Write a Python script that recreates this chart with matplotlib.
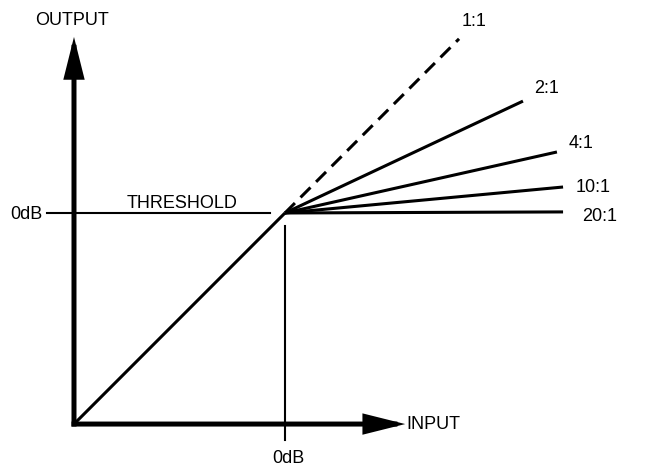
import matplotlib
matplotlib.use("Agg")
import matplotlib.pyplot as plt
from matplotlib.patches import FancyArrowPatch, ArrowStyle

plt.rcParams['font.family'] = ['Liberation Sans', 'DejaVu Sans']

# levels in arbitrary units, origin = 0, threshold (0dB) = 100
threshold = 100
ratio_labels = ['1:1', '2:1', '4:1', '10:1', '20:1']
end_in = [182.5, 212.8, 228.9, 231.8, 231.8]
end_out = [182.5, 153.0, 128.9, 112.3, 100.5]
axis_in_max = 157
axis_out_max = 183.4

fig = plt.figure(figsize=(6.58, 4.65), dpi=100)
ax = fig.add_axes([0, 0, 1, 1])
ax.set_xlim(-35.07, 276.8)
ax.set_ylim(-19.4, 200.9)
ax.axis('off')

# axes with arrows
style = ArrowStyle('-|>', head_length=21.6, head_width=5.4)
for end in [(axis_in_max, 0), (0, axis_out_max)]:
    arr = FancyArrowPatch((0, 0), end, arrowstyle=style, mutation_scale=1,
                          lw=3.6, color='black', shrinkA=0, shrinkB=0,
                          capstyle='projecting', joinstyle='miter')
    ax.add_patch(arr)

# threshold line and 0dB input marker
ax.plot([-12.8, 92.9], [threshold, threshold], color='black', lw=1.5)
ax.plot([threshold, threshold], [93.8, -7.6], color='black', lw=1.5)

# below threshold: 1:1
ax.plot([0, threshold], [0, threshold], color='black', lw=2.2,
        solid_capstyle='butt')

# compression curves above threshold
for i, lab in enumerate(ratio_labels):
    ls = (0, (4.6, 2.6)) if lab == '1:1' else '-'
    ax.plot([threshold, end_in[i]], [threshold, end_out[i]], color='black',
            lw=2.2, linestyle=ls, solid_capstyle='butt', dash_capstyle='butt')

fs = 13
label_pos = {'1:1': (183.9, 190.5), '2:1': (218.0, 158.8), '4:1': (234.6, 132.7),
             '10:1': (237.9, 112.3), '20:1': (240.8, 98.1)}
for lab in ratio_labels:
    x, y = label_pos[lab]
    ax.text(x, y, lab, fontsize=fs, ha='left', va='center')

ax.text(-1.0, 191.2, 'OUTPUT', fontsize=fs, ha='center', va='center')
ax.text(157.5, 0, 'INPUT', fontsize=fs, ha='left', va='center')
ax.text(25.1, 104.3, 'THRESHOLD', fontsize=fs, ha='left', va='center')
ax.text(-14.7, 99.5, '0dB', fontsize=fs, ha='right', va='center')
ax.text(101.4, -16.1, '0dB', fontsize=fs, ha='center', va='center')

fig.savefig('out.png', dpi=100)
